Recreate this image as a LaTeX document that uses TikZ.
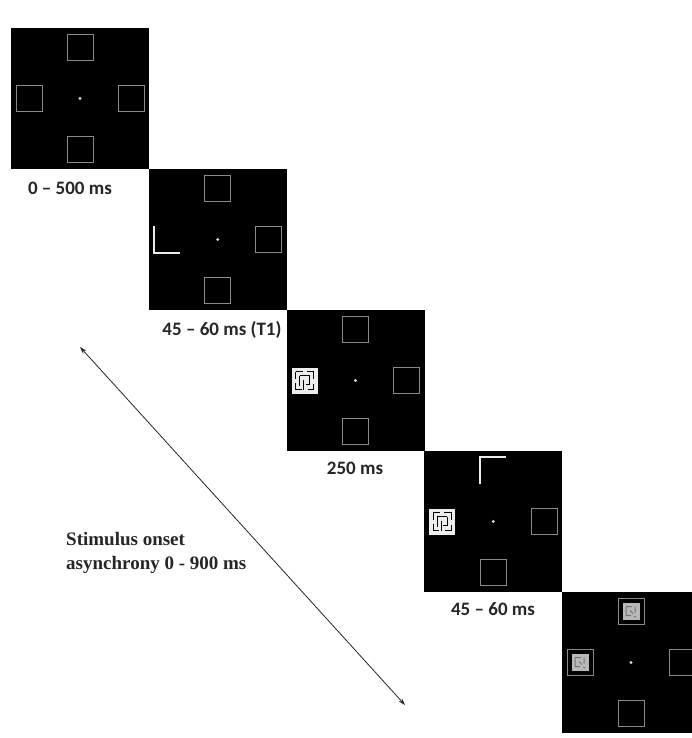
\documentclass[tikz,border=0pt]{standalone}
\usepackage{fontspec}
\setmainfont{Liberation Serif}
\newfontfamily\labelfont[Ligatures=TeX]{Carlito}
\usepackage{tikz}
\usetikzlibrary{arrows.meta, positioning, calc}
\definecolor{holdgray}{HTML}{8A8A8A}
\definecolor{labelgray}{HTML}{262626}

\begin{document}
\begin{tikzpicture}[
    x=1pt, y=-1pt,
    panel/.style={rectangle, fill=black, minimum width=138pt, minimum height=141pt,
                 inner sep=0pt, outer sep=0pt},
    holder/.style={rectangle, draw=holdgray, line width=0.9pt,
                  minimum size=26pt, inner sep=0pt},
    cuebox/.style={rectangle, minimum size=26pt, inner sep=0pt},
    cue/.style={draw=white!92!black, line width=2pt},
    fixdot/.style={circle, fill=white!85!black, inner sep=0pt, minimum size=3.2pt},
    timelabel/.style={font=\labelfont\bfseries\fontsize{19}{22}\selectfont,
                     text=labelgray, inner sep=0pt},
    maze/.style={draw=black, line width=1.3pt},
    arrow/.style={{Stealth[length=7pt,width=4.5pt]}-{Stealth[length=7pt,width=4.5pt]},
                 line width=0.8pt, draw=labelgray},
    mask/.pic={
        \fill[white!93!black] (-13,-13) rectangle (13,13);
        \draw[maze] (-9,-9) -- (-2,-9) (2,-9) -- (9,-9) -- (9,-2)
                    (-9,-9) -- (-9,-2) (-9,2) -- (-9,9) -- (-3,9)
                    (-5,-5) -- (5,-5) (5,-5) -- (5,4) -- (1,4)
                    (-5,-5) -- (-5,5) (-1,-1) -- (-1,9) (3,9) -- (9,9) -- (9,3);
    },
    dimmask/.pic={
        \fill[white!72!black] (-8.5,-8.5) rectangle (8.5,8.5);
        \draw[draw=black!55, line width=1pt] (-5,-5) -- (1,-5) (4,-5) -- (4,1)
                    (-5,-5) -- (-5,4) -- (0,4) (-1,-1) -- (2,2) (3,5) -- (5,5);
    }
]
\clip (0,0) rectangle (692,738);
\fill[white] (0,0) rectangle (692,738);

% Panels with fixation point and standard placeholders
\foreach \i in {1,...,5} {
    \node[panel] (p\i) at ({80+137.75*(\i-1)}, {98.5+141*(\i-1)}) {};
    \node[fixdot] (fix\i) at (p\i.center) {};
    \node[holder] (p\i-right) at ($(p\i.center)+(51,0)$) {};
    \node[holder] (p\i-bottom) at ($(p\i.center)+(0,51)$) {};
}
\foreach \i in {1,2,3,5} {
    \node[holder] (p\i-top) at ($(p\i.center)+(0,-51)$) {};
}

% Fixation display
\node[holder] (p1-left) at ($(p1.center)+(-51,0)$) {};

% T1 cue
\node[cuebox] (p2-left) at ($(p2.center)+(-51,0)$) {};
\draw[cue] (p2-left.north west) |- (p2-left.south east);

% Masks after T1
\coordinate (p3-left) at ($(p3.center)+(-51,0)$);
\pic at (p3-left) {mask};
\coordinate (p4-left) at ($(p4.center)+(-51,0)$);
\pic at (p4-left) {mask};

% T2 cue
\node[cuebox] (p4-top) at ($(p4.center)+(0,-51)$) {};
\draw[cue] (p4-top.south west) |- (p4-top.north east);

% Masks after T2
\node[holder] (p5-left) at ($(p5.center)+(-51,0)$) {};
\pic at (p5-top) {dimmask};
\pic at (p5-left) {dimmask};

% Durations
\node[timelabel] (t1) at (70,188) {0 – 500 ms};
\node[timelabel] (t2) at (222,330) {45 – 60 ms (T1)};
\node[timelabel] (t3) at (355,468) {250 ms};
\node[timelabel] (t4) at (493,609) {45 – 60 ms};

% SOA
\coordinate (soa-start) at (80,347);
\coordinate (soa-end) at (405,705);
\draw[arrow] (soa-start) -- (soa-end);
\node[anchor=north west, align=left, font=\bfseries\fontsize{19}{24}\selectfont,
      text=labelgray, inner sep=0pt] (soa) at (66,532)
      {Stimulus onset\\asynchrony 0 - 900 ms};

\end{tikzpicture}
\end{document}
